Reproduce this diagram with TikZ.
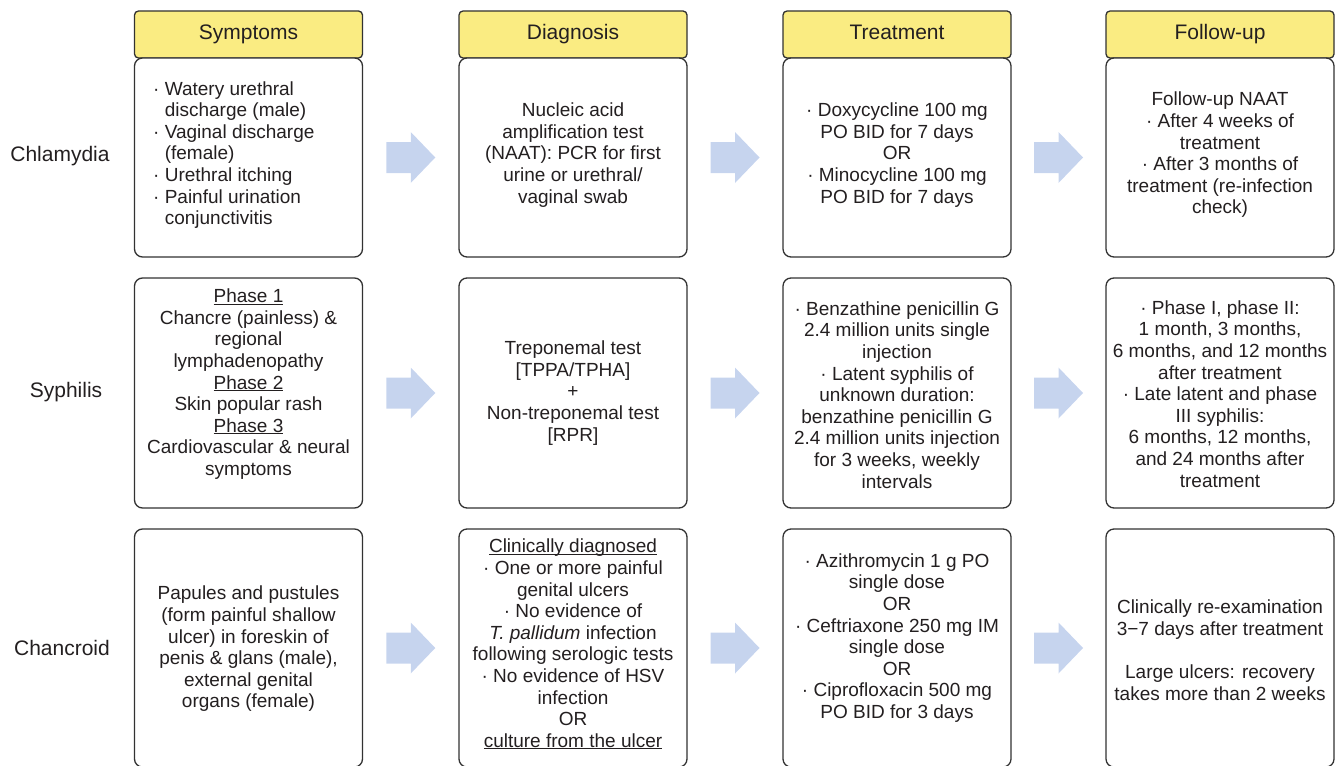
\documentclass[tikz,border=0pt]{standalone}
\usepackage{fontspec}
\setmainfont{Liberation Sans}
\usetikzlibrary{calc}
\definecolor{hdr}{RGB}{250,236,130}
\definecolor{arr}{RGB}{198,212,238}
\definecolor{ink}{RGB}{35,31,32}
\definecolor{edgec}{RGB}{50,50,50}
\newcommand\ulx[1]{\underline{\smash{#1}}}
\newcommand\bl{·\ }
\newcommand\hin{\hphantom{·\ }}
\begin{document}
\begin{tikzpicture}[x=1pt,y=-1pt,
  bodybox/.style={draw=edgec, line width=1.3pt, rounded corners=8pt, fill=white, minimum width=228pt, inner sep=0pt},
  hdrbox/.style={draw=edgec, line width=1.3pt, rounded corners=4pt, fill=hdr, minimum width=228pt, minimum height=47pt, inner sep=0pt, text height=15pt, text depth=4.5pt, font=\fontsize{21}{24}\selectfont, text=ink},
  txt/.style={align=center, font=\fontsize{19}{21.6}\selectfont, text=ink, inner sep=0pt},
  rowlbl/.style={font=\fontsize{21}{24}\selectfont, text=ink, inner sep=0pt},
  blockarrow/.style={fill=arr, draw=none}]
\useasboundingbox (0,0) rectangle (1340,765);

% headers
\node[hdrbox] (hs) at (248.5,34.5) {Symptoms};
\node[hdrbox] (hd) at (573,34.5) {Diagnosis};
\node[hdrbox] (ht) at (897,34.5) {Treatment};
\node[hdrbox] (hf) at (1220,34.5) {Follow-up};

% row labels
\node[rowlbl] (l1) at (60,156) {Chlamydia};
\node[rowlbl] (l2) at (66,392) {Syphilis};
\node[rowlbl] (l3) at (62,648) {Chancroid};

% body boxes
\foreach \c/\x in {s/248.5,d/573,t/897,f/1220}{
  \node[bodybox, minimum height=199pt] (\c1) at (\x,157.5) {};
  \node[bodybox, minimum height=230pt] (\c2) at (\x,393) {};
  \node[bodybox, minimum height=238pt] (\c3) at (\x,648) {};
}

% block arrows between the boxes
\foreach \r in {1,2,3}{
  \coordinate (as\r) at ($(s\r.east)!0.5!(d\r.west)$);
  \coordinate (ad\r) at ($(d\r.east)!0.5!(t\r.west)$);
  \coordinate (at\r) at ($(t\r.east)!0.5!(f\r.west)$);
  \foreach \a in {as\r,ad\r,at\r}{
    \fill[blockarrow] (\a) ++(-24.5,-15.5) -- ++(24.5,0) -- ++(0,-10) -- ++(24.5,25.5)
      -- ++(-24.5,25.5) -- ++(0,-10) -- ++(-24.5,0) -- cycle;
  }
}

% row 1
\node[txt, align=left, anchor=west] (s1t) at (153,155) {\bl Watery urethral\\
\hin discharge (male)\\
\bl Vaginal discharge\\
\hin (female)\\
\bl Urethral itching\\
\bl Painful urination\\
\hin conjunctivitis};
\node[txt] (d1t) at (573,155) {Nucleic acid\\amplification test\\(NAAT): PCR for first\\urine or urethral/\\vaginal swab};
\node[txt] (t1t) at (897,155) {\bl Doxycycline 100 mg\\PO BID for 7 days\\OR\\\bl Minocycline 100 mg\\PO BID for 7 days};
\node[txt] (f1t) at (1220,155) {Follow-up NAAT\\\bl After 4 weeks of\\treatment\\\bl After 3 months of\\treatment (re-infection\\check)};

% row 2
\node[txt] (s2t) at (248.5,391) {\ulx{Phase 1}\\Chancre (painless) \&\\regional\\lymphadenopathy\\\ulx{Phase 2}\\Skin popular rash\\\ulx{Phase 3}\\Cardiovascular \& neural\\symptoms};
\node[txt] (d2t) at (573,393) {Treponemal test\\{}[TPPA/TPHA]\\+\\Non-treponemal test\\{}[RPR]};
\node[txt] (t2t) at (897,395) {\bl Benzathine penicillin G\\2.4 million units single\\injection\\\bl Latent syphilis of\\unknown duration:\\benzathine penicillin G\\2.4 million units injection\\for 3 weeks, weekly\\intervals};
\node[txt] (f2t) at (1220,394) {\bl Phase I, phase II:\\1 month, 3 months,\\6 months, and 12 months\\after treatment\\\bl Late latent and phase\\III syphilis:\\6 months, 12 months,\\and 24 months after\\treatment};

% row 3
\node[txt] (s3t) at (248.5,649) {Papules and pustules\\(form painful shallow\\ulcer) in foreskin of\\penis \& glans (male),\\external genital\\organs (female)};
\node[txt] (d3t) at (573,651) {\ulx{Clinically diagnosed}\\\bl One or more painful\\genital ulcers\\\bl No evidence of\\\textit{T. pallidum} infection\\following serologic tests\\\bl No evidence of HSV\\infection\\OR\\\ulx{culture from the ulcer}};
\node[txt] (t3t) at (897,638) {\bl Azithromycin 1 g PO\\single dose\\OR\\\bl Ceftriaxone 250 mg IM\\single dose\\OR\\\bl Ciprofloxacin 500 mg\\PO BID for 3 days};
\node[txt] (f3t) at (1220,650) {Clinically re-examination\\3−7 days after treatment\\[21.6pt]Large ulcers: recovery\\takes more than 2 weeks};
\end{tikzpicture}
\end{document}
